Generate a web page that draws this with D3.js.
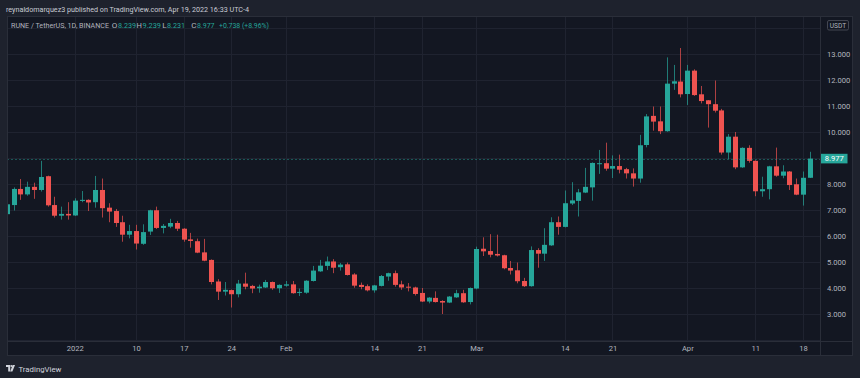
<!DOCTYPE html>
<html><head><meta charset="utf-8">
<script src="https://cdn.jsdelivr.net/npm/d3@7"></script>
<style>html,body{margin:0;padding:0;background:#1e222d;overflow:hidden}svg{display:block}</style>
</head><body><svg id="c" width="860" height="378"></svg>
<script>
// ---------- DATA ----------
const symbolName = "RUNE / TetherUS, 1D, BINANCE";
const headerText = "reynaldomarquez3 published on TradingView.com, Apr 19, 2022 16:33 UTC-4";
const firstDay = "2021-12-22";
const lastDay = "2022-04-19";
const openV = [6.84,7.19,7.81,7.60,7.89,7.77,8.30,7.19,6.78,6.85,
 6.79,7.35,7.39,7.30,7.77,7.09,6.96,6.53,6.05,6.19,5.70,6.17,6.99,6.31,6.36,6.50,6.28,5.87,5.80,5.37,5.08,4.25,3.86,3.92,3.76,4.17,4.08,3.99,4.02,4.23,3.99,
 4.09,4.14,3.83,3.82,4.27,4.64,4.85,5.02,4.80,4.91,4.52,4.12,4.07,3.91,4.08,4.44,4.57,4.14,4.05,4.02,3.81,3.48,3.62,3.50,3.44,3.64,3.80,3.46,
 3.98,5.51,5.42,5.31,5.26,4.77,4.68,4.27,4.07,5.46,5.32,5.64,6.53,6.35,7.25,7.35,7.67,7.87,8.78,8.80,8.59,8.69,8.57,8.41,8.21,9.50,10.62,10.41,10.03,11.86,11.94,
 11.46,12.36,11.45,11.22,11.07,10.83,9.21,9.82,8.64,9.39,8.89,7.72,7.80,8.68,8.32,8.48,7.99,7.59,8.239];
const highV = [7.73,7.87,8.19,8.09,8.05,8.89,8.32,7.51,7.13,7.30,
 7.45,7.73,7.41,8.31,8.21,7.26,7.04,6.78,6.43,6.43,6.45,7.01,7.13,6.46,6.66,6.58,6.30,6.12,5.90,5.89,5.10,4.34,4.23,3.94,4.31,4.59,4.12,4.13,4.31,4.25,4.14,
 4.27,4.27,3.98,4.30,4.85,5.08,5.21,5.11,4.96,4.98,4.57,4.21,4.14,4.12,4.50,4.59,4.67,4.28,4.19,4.05,4.00,3.65,3.87,3.53,3.69,3.93,3.93,4.02,
 5.59,5.95,6.07,6.05,5.28,5.04,4.98,4.39,5.60,5.53,6.30,6.72,6.75,7.75,8.07,7.81,8.62,8.83,9.31,9.59,9.10,9.13,8.62,8.60,9.89,10.69,10.98,10.98,12.87,12.58,13.23,
 12.58,12.41,11.77,11.23,11.98,10.89,9.92,10.00,9.41,9.49,8.91,8.28,8.70,9.40,8.72,8.50,8.21,8.48,9.239];
const lowV = [6.80,6.98,7.39,7.55,7.43,7.71,7.13,6.71,6.63,6.63,
 6.77,7.30,6.96,7.09,6.71,6.53,6.35,5.78,5.91,5.48,5.66,6.04,6.27,6.10,6.30,6.19,5.78,5.55,5.34,5.03,4.14,3.54,3.71,3.25,3.64,3.95,3.80,3.82,4.00,3.93,3.81,
 4.05,3.78,3.69,3.78,4.25,4.62,4.69,4.57,4.67,4.48,4.01,3.95,3.87,3.82,4.06,4.28,4.05,3.93,3.87,3.71,3.46,3.41,3.44,3.00,3.42,3.62,3.43,3.37,
 3.95,5.23,5.18,5.21,4.72,4.52,4.18,4.04,4.05,4.78,5.04,5.62,6.05,6.33,7.19,6.75,7.65,7.36,8.39,8.51,8.23,8.41,8.21,7.90,8.05,9.41,10.05,9.92,10.01,11.62,11.33,
 11.04,11.39,11.10,10.17,10.75,9.13,8.96,8.57,8.62,8.82,7.53,7.51,7.41,8.28,8.22,7.77,7.57,7.17,8.231];
const closeV = [7.22,7.81,7.60,7.89,7.77,8.27,7.18,6.78,6.85,6.79,
 7.36,7.39,7.29,7.77,7.07,6.94,6.50,6.05,6.19,5.71,6.15,6.99,6.31,6.39,6.50,6.28,5.86,5.81,5.36,5.05,4.23,3.86,3.93,3.76,4.17,4.05,3.98,4.05,4.23,3.99,4.12,
 4.14,3.80,3.85,4.28,4.67,4.86,5.02,4.78,4.90,4.50,4.09,4.04,3.91,4.10,4.46,4.57,4.12,4.02,4.02,3.77,3.48,3.63,3.46,3.44,3.67,3.80,3.45,4.00,
 5.50,5.41,5.28,5.25,4.76,4.67,4.26,4.07,5.46,5.32,5.66,6.53,6.35,7.26,7.37,7.68,7.89,8.81,8.80,8.59,8.69,8.55,8.41,8.21,9.49,10.60,10.40,10.03,11.86,11.95,11.45,
 12.36,11.42,11.19,11.07,10.82,9.21,9.82,8.64,9.39,8.89,7.72,7.80,8.68,8.32,8.48,7.96,7.59,8.239,8.977];
const tickDates = ["2022-01-01","2022-01-10","2022-01-17","2022-01-24","2022-02-01","2022-02-14","2022-02-21","2022-03-01","2022-03-14","2022-03-21","2022-04-01","2022-04-11","2022-04-18"];
const tickLabels = ["2022","10","17","24","Feb","14","21","Mar","14","21","Apr","11","18"];
const priceLabels = [3,4,5,6,7,8,10,11,12,13];
const gridPrices = [2,3,4,5,6,7,8,9,10,11,12,13,14];
const currency = "USDT";

// ---------- LAYOUT ----------
const UP = "#26a69a", DOWN = "#ef5350";
const P = {l: 7, r: 820, t: 16, b: 341, axR: 853, axB: 356};
const FONT = "Roboto, 'Liberation Sans', sans-serif";
const svg = d3.select("#c");
const parse = d3.utcParse("%Y-%m-%d");
const days = d3.utcDay.range(parse(firstDay), d3.utcDay.offset(parse(lastDay), 1));
const data = days.map((d, i) => ({date: d, o: openV[i], h: highV[i], l: lowV[i], c: closeV[i]}));

const x = d3.scaleUtc().domain([parse("2022-01-01"), parse("2022-04-19")]).range([74.8, 809.8]);
const y = d3.scaleLinear().domain([2, 14]).range([340, 28]);

svg.append("rect").attr("width", 860).attr("height", 378).attr("fill", "#1e222d");
svg.append("rect").attr("x", P.l).attr("y", P.t).attr("width", P.axR - P.l).attr("height", P.axB - P.t).attr("fill", "#131722");

svg.append("defs").append("clipPath").attr("id", "clip").append("rect")
  .attr("x", P.l).attr("y", P.t).attr("width", P.r - P.l).attr("height", P.b - P.t);

const plot = svg.append("g").attr("clip-path", "url(#clip)");
// grid
plot.selectAll("line.hg").data(gridPrices).join("line")
  .attr("x1", P.l).attr("x2", P.r).attr("y1", d => Math.round(y(d)) + 0.5).attr("y2", d => Math.round(y(d)) + 0.5)
  .attr("stroke", "#1f2330").attr("stroke-width", 1);
plot.selectAll("line.vg").data(tickDates).join("line")
  .attr("y1", P.t).attr("y2", P.b).attr("x1", d => Math.round(x(parse(d))) + 0.5).attr("x2", d => Math.round(x(parse(d))) + 0.5)
  .attr("stroke", "#1f2330").attr("stroke-width", 1);

// candles
const last = data[data.length - 1];
const cg = plot.append("g");
cg.selectAll("line.w").data(data).join("line")
  .attr("x1", d => Math.round(x(d.date)) + 0.5).attr("x2", d => Math.round(x(d.date)) + 0.5)
  .attr("y1", d => y(d.h)).attr("y2", d => y(d.l))
  .attr("stroke", d => d.c >= d.o ? UP : DOWN).attr("stroke-opacity", 0.7).attr("stroke-width", 1);
cg.selectAll("rect.b").data(data).join("rect")
  .attr("x", d => Math.round(x(d.date)) - 2).attr("width", 5)
  .attr("y", d => y(Math.max(d.o, d.c)))
  .attr("height", d => Math.max(1, Math.abs(y(d.o) - y(d.c))))
  .attr("fill", d => d.c >= d.o ? UP : DOWN);

// current price line
plot.append("line").attr("x1", P.l).attr("x2", P.r)
  .attr("y1", Math.round(y(last.c)) + 0.5).attr("y2", Math.round(y(last.c)) + 0.5)
  .attr("stroke", UP).attr("stroke-opacity", 0.45).attr("stroke-dasharray", "2,2");

// borders
const bc = "#2a2e39";
svg.append("line").attr("x1", P.l).attr("x2", P.axR).attr("y1", P.b + 0.5).attr("y2", P.b + 0.5).attr("stroke", bc);
svg.append("line").attr("x1", P.r + 0.5).attr("x2", P.r + 0.5).attr("y1", P.t).attr("y2", P.axB).attr("stroke", bc);
svg.append("rect").attr("x", P.l + 0.5).attr("y", P.t + 0.5).attr("width", P.axR - P.l - 1).attr("height", P.axB - P.t - 1)
  .attr("fill", "none").attr("stroke", bc);

// price axis
const ya = d3.axisRight(y).tickValues(priceLabels).tickFormat(d3.format(".3f")).tickSize(0).tickPadding(7);
const yg = svg.append("g").attr("transform", `translate(${P.r},0)`).call(ya);
yg.select(".domain").remove();
yg.selectAll("text").attr("fill", "#b2b5be").attr("font-family", FONT).attr("font-size", 7.6);

// time axis
const xa = d3.axisBottom(x).tickValues(tickDates.map(parse)).tickFormat((d, i) => tickLabels[i]).tickSize(0).tickPadding(5);
const xg = svg.append("g").attr("transform", `translate(0,${P.b})`).call(xa);
xg.select(".domain").remove();
xg.selectAll("text").attr("fill", "#b2b5be").attr("font-family", FONT).attr("font-size", 7.6);

// last price label
const ly = y(last.c);
svg.append("rect").attr("x", 821).attr("y", ly - 4.8).attr("width", 26.5).attr("height", 9.6).attr("fill", UP);
svg.append("text").attr("x", 834.2).attr("y", ly + 2.7).attr("text-anchor", "middle")
  .attr("fill", "#ffffff").attr("font-family", FONT).attr("font-size", 7.6).text(d3.format(".3f")(last.c));

// currency box
svg.append("rect").attr("x", 827.5).attr("y", 20.5).attr("width", 21).attr("height", 9.5).attr("rx", 1.5)
  .attr("fill", "#131722").attr("stroke", "#434651");
svg.append("text").attr("x", 838).attr("y", 27.8).attr("text-anchor", "middle")
  .attr("fill", "#b2b5be").attr("font-family", FONT).attr("font-size", 6.6).text(currency);

// fit text: shrink font until natural width fits target width, then stretch exactly
function fitText(sel, size, w) {
  sel.attr("font-size", size);
  const n = sel.node().getComputedTextLength();
  if (n > w) sel.attr("font-size", size * w / n);
  sel.attr("textLength", w).attr("lengthAdjust", "spacingAndGlyphs");
}

// header
fitText(svg.append("text").attr("x", 6).attr("y", 11.8).attr("fill", "#c9ccd4").attr("font-family", FONT).text(headerText), 8.2, 243);

// legend
const prev = data[data.length - 2].c;
const chg = last.c - prev;
const f3 = d3.format(".3f");
const leg = [
  {t: symbolName, x: 11, w: 98, c: "#b2b5be"},
  {t: "O", x: 111.8, w: 5.6, c: "#b2b5be"}, {t: f3(last.o), x: 118, w: 18, c: UP},
  {t: "H", x: 136.6, w: 5.4, c: "#b2b5be"}, {t: f3(last.h), x: 142.5, w: 18.5, c: UP},
  {t: "L", x: 162.2, w: 4.4, c: "#b2b5be"}, {t: f3(last.l), x: 167, w: 18, c: UP},
  {t: "C", x: 191.2, w: 5.3, c: "#b2b5be"}, {t: f3(last.c), x: 197, w: 17.5, c: UP},
  {t: (chg >= 0 ? "+" : "") + f3(chg) + " (" + (chg >= 0 ? "+" : "") + d3.format(".2f")(chg / prev * 100) + "%)", x: 219, w: 50, c: UP}
];
leg.forEach(d => {
  fitText(svg.append("text").attr("x", d.x).attr("y", 28).attr("fill", d.c).attr("font-family", FONT).text(d.t), 8, d.w);
});

// footer logo
const lg = svg.append("g").attr("transform", "translate(6,365)").attr("fill", "#d1d4dc");
lg.append("path").attr("d", "M0,0 H4.2 V6.5 H2.2 V2 H0 Z");
lg.append("circle").attr("cx", 5.4).attr("cy", 1).attr("r", 1);
lg.append("path").attr("d", "M6.6,0 H9 L6.4,6.5 H4.2 Z");
fitText(svg.append("text").attr("x", 18.5).attr("y", 371.5).attr("fill", "#d1d4dc").attr("font-family", FONT).text("TradingView"), 8.4, 43);
</script></body></html>
